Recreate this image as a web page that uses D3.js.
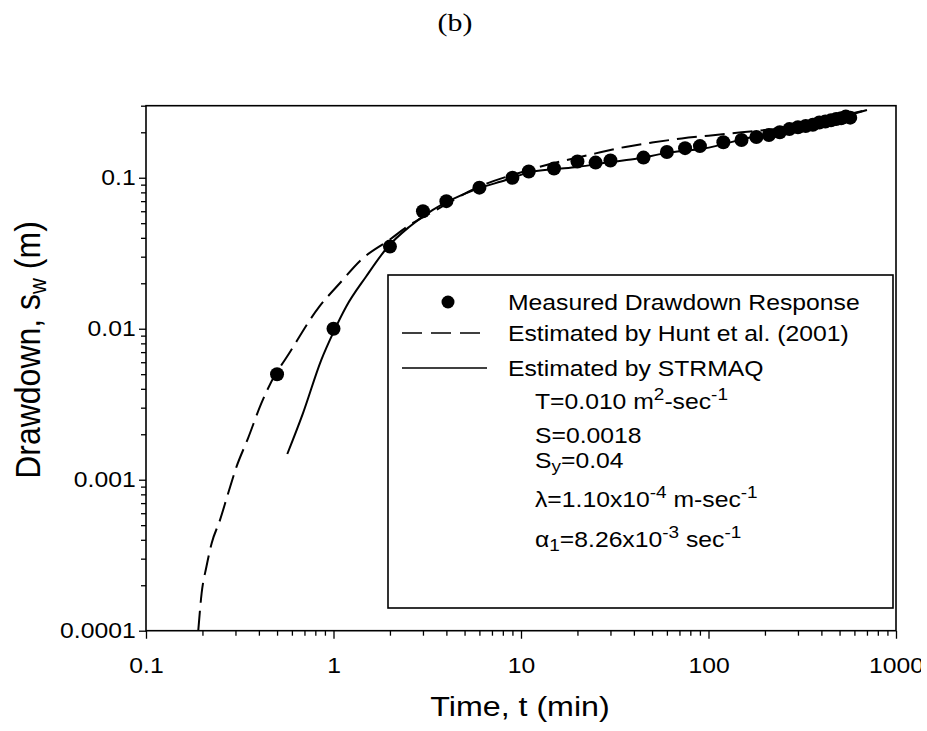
<!DOCTYPE html>
<html>
<head>
<meta charset="utf-8">
<script src="https://cdn.jsdelivr.net/npm/d3@7"></script>
<style>
  body { margin: 0; background: #fff; }
  text { font-family: "Liberation Sans", Arial, sans-serif; fill: #000; }
</style>
</head>
<body>
<div id="chart"></div>
<script>
// measured drawdown response (time in min, drawdown in m)
const measuredTime = [0.5, 1, 2, 3, 4, 6, 9, 11, 15, 20, 25, 30, 45, 60, 75, 90, 120, 150,
  180, 210, 240, 270, 300, 330, 360, 390, 420, 450, 480, 510, 540, 570];
const measuredDrawdown = [0.005, 0.01, 0.035, 0.06, 0.07, 0.086, 0.1, 0.11, 0.115, 0.128, 0.126, 0.13,
  0.136, 0.148, 0.157, 0.162, 0.172, 0.178,
  0.186, 0.192, 0.2, 0.21, 0.216, 0.22, 0.224, 0.232, 0.236, 0.24, 0.245, 0.248, 0.254, 0.25];

// Hunt et al. (2001) estimate
const huntTime = [0.19, 0.198, 0.21, 0.224, 0.248, 0.274, 0.304, 0.35, 0.412, 0.49, 0.55, 0.84,
  1.08, 1.4, 2, 2.54, 3.4, 5.7, 10.6, 25, 36, 50, 72, 100, 150, 200, 300, 400, 500, 700];
const huntDrawdown = [0.0001, 0.000177, 0.000265, 0.00038, 0.00054, 0.00081, 0.00122, 0.00188, 0.0032,
  0.005, 0.0062, 0.014, 0.02, 0.0285, 0.039, 0.0486, 0.0596, 0.085, 0.111, 0.145, 0.16, 0.171,
  0.182, 0.19, 0.2, 0.207, 0.222, 0.238, 0.255, 0.281];

// STRMAQ estimate
const strmaqTime = [0.567, 0.687, 0.86, 1, 1.168, 1.49, 1.95, 2.54, 3.37, 5.74, 8.3, 11.4, 15, 20,
  30, 42, 58, 94, 173, 250, 400, 550, 700];
const strmaqDrawdown = [0.00148, 0.00275, 0.0062, 0.0095, 0.014, 0.0221, 0.0349, 0.0474, 0.0611, 0.0838,
  0.0965, 0.1096, 0.114, 0.118, 0.127, 0.134, 0.145, 0.156, 0.187, 0.205, 0.235, 0.258, 0.281];

const xTicks = [0.1, 1, 10, 100, 1000];
const yTicks = [0.0001, 0.001, 0.01, 0.1];
const xTickLabels = ["0.1", "1", "10", "100", "1000"];
const yTickLabels = ["0.0001", "0.001", "0.01", "0.1"];

const W = 927, H = 731;
const SX = 1.15; // the scanned figure is wider than tall: stretch text horizontally

const svg = d3.select("#chart").append("svg")
  .attr("width", W).attr("height", H);

const x = d3.scaleLog().domain([0.1, 1000]).range([146, 896]);
const y = d3.scaleLog().domain([0.0001, 0.3]).range([630.7, 105.7]);

// minor ticks
function minors(lo, hi, top) {
  const out = [];
  for (let d = lo; d < hi; d *= 10)
    for (let k = 2; k <= 9; k++) if (k * d <= top + 1e-12) out.push(k * d);
  return out;
}

function putText(parent, px, py, size) {
  return parent.append("text")
    .attr("transform", "translate(" + px + "," + py + ") scale(" + SX + ",1)")
    .style("font-size", size + "px");
}

// the right edge of the page cuts the last tick label, as in the scan
svg.append("defs").append("clipPath").attr("id", "pageclip")
  .append("rect").attr("x", -100).attr("y", 0).attr("width", 1021).attr("height", 200);

// x axis
const gx = svg.append("g").attr("transform", "translate(0," + y.range()[0] + ")");
gx.call(d3.axisBottom(x).tickValues(minors(0.1, 1000, 1000)).tickSize(5).tickFormat(""));
gx.append("g").call(d3.axisBottom(x).tickValues(xTicks).tickSize(8).tickPadding(19)
  .tickFormat((d, i) => xTickLabels[i]))
  .attr("clip-path", "url(#pageclip)");
gx.selectAll(".domain").remove();
gx.selectAll("line").attr("stroke", "#000").attr("stroke-width", 1.3);
gx.selectAll("text").style("font-size", "21.5px").attr("fill", "#000")
  .attr("transform", "scale(" + SX + ",1)");

// y axis
const gy = svg.append("g").attr("transform", "translate(" + x.range()[0] + ",0)");
gy.call(d3.axisLeft(y).tickValues(minors(0.0001, 0.3, 0.3)).tickSize(5).tickFormat(""));
gy.append("g").call(d3.axisLeft(y).tickValues(yTicks).tickSize(7).tickPadding(2)
  .tickFormat((d, i) => yTickLabels[i]));
gy.selectAll(".domain").remove();
gy.selectAll("line").attr("stroke", "#000").attr("stroke-width", 1.3);
gy.selectAll("text").style("font-size", "21.5px").attr("fill", "#000")
  .attr("transform", "scale(" + SX + ",1)");

// frame
svg.append("rect")
  .attr("x", x.range()[0]).attr("y", y.range()[1])
  .attr("width", x.range()[1] - x.range()[0]).attr("height", y.range()[0] - y.range()[1])
  .attr("fill", "none").attr("stroke", "#000").attr("stroke-width", 1.6);

// curves
const line = d3.line().x(d => x(d[0])).y(d => y(d[1])).curve(d3.curveMonotoneX);
svg.append("path")
  .datum(huntTime.map((t, i) => [t, huntDrawdown[i]]))
  .attr("d", line).attr("fill", "none").attr("stroke", "#000")
  .attr("stroke-width", 2).attr("stroke-dasharray", "20,8");
svg.append("path")
  .datum(strmaqTime.map((t, i) => [t, strmaqDrawdown[i]]))
  .attr("d", line).attr("fill", "none").attr("stroke", "#000").attr("stroke-width", 2);

// measured points
svg.append("g").selectAll("circle")
  .data(measuredTime.map((t, i) => [t, measuredDrawdown[i]]))
  .enter().append("circle")
  .attr("cx", d => x(d[0])).attr("cy", d => y(d[1])).attr("r", 7).attr("fill", "#000");

// legend
const lg = svg.append("g");
lg.append("rect").attr("x", 388).attr("y", 275).attr("width", 505).attr("height", 333)
  .attr("fill", "#fff").attr("stroke", "#000").attr("stroke-width", 1.6);
lg.append("circle").attr("cx", 448).attr("cy", 302).attr("r", 6.5).attr("fill", "#000");
lg.append("line").attr("x1", 402).attr("x2", 480).attr("y1", 333).attr("y2", 333)
  .attr("stroke", "#000").attr("stroke-width", 1.6).attr("stroke-dasharray", "20,9");
lg.append("line").attr("x1", 402).attr("x2", 487).attr("y1", 368).attr("y2", 368)
  .attr("stroke", "#000").attr("stroke-width", 1.6);
const legendText = ["Measured Drawdown Response", "Estimated by Hunt et al. (2001)", "Estimated by STRMAQ"];
const legendY = [309.5, 340.5, 375.5];
legendText.forEach((s, i) => {
  putText(lg, 508, legendY[i], 21.5).text(s);
});

// parameter block: arrays of [text, shift] pieces (shift: 0 normal, 1 sup, -1 sub)
const params = [
  [["T=0.010 m", 0], ["2", 1], ["-sec", 0], ["-1", 1]],
  [["S=0.0018", 0]],
  [["S", 0], ["y", -1], ["=0.04", 0]],
  [["\u03bb=1.10x10", 0], ["-4", 1], [" m-sec", 0], ["-1", 1]],
  [["\u03b1", 0], ["1", -1], ["=8.26x10", 0], ["-3", 1], [" sec", 0], ["-1", 1]]
];
const paramY = [409, 443, 468, 507, 547];
params.forEach((parts, i) => {
  const t = putText(lg, 535, paramY[i], 21.5);
  parts.forEach(p => {
    const ts = t.append("tspan").text(p[0]);
    if (p[1] === 1) ts.attr("baseline-shift", "9").style("font-size", "16.5px");
    if (p[1] === -1) ts.attr("baseline-shift", "-4").style("font-size", "16.5px");
  });
});

// axis titles
putText(svg, 520, 716, 28).attr("text-anchor", "middle").text("Time, t (min)");
const yt = svg.append("text")
  .attr("transform", "translate(40,350) rotate(-90) scale(1,1.1)")
  .attr("text-anchor", "middle").style("font-size", "32px");
yt.append("tspan").text("Drawdown, s");
yt.append("tspan").text("w").attr("baseline-shift", "-6").style("font-size", "22px");
yt.append("tspan").text(" (m)");

// panel label
putText(svg, 455, 31, 26).attr("text-anchor", "middle")
  .style("font-family", "'Liberation Serif', 'Times New Roman', serif")
  .text("(b)");
</script>
</body>
</html>
